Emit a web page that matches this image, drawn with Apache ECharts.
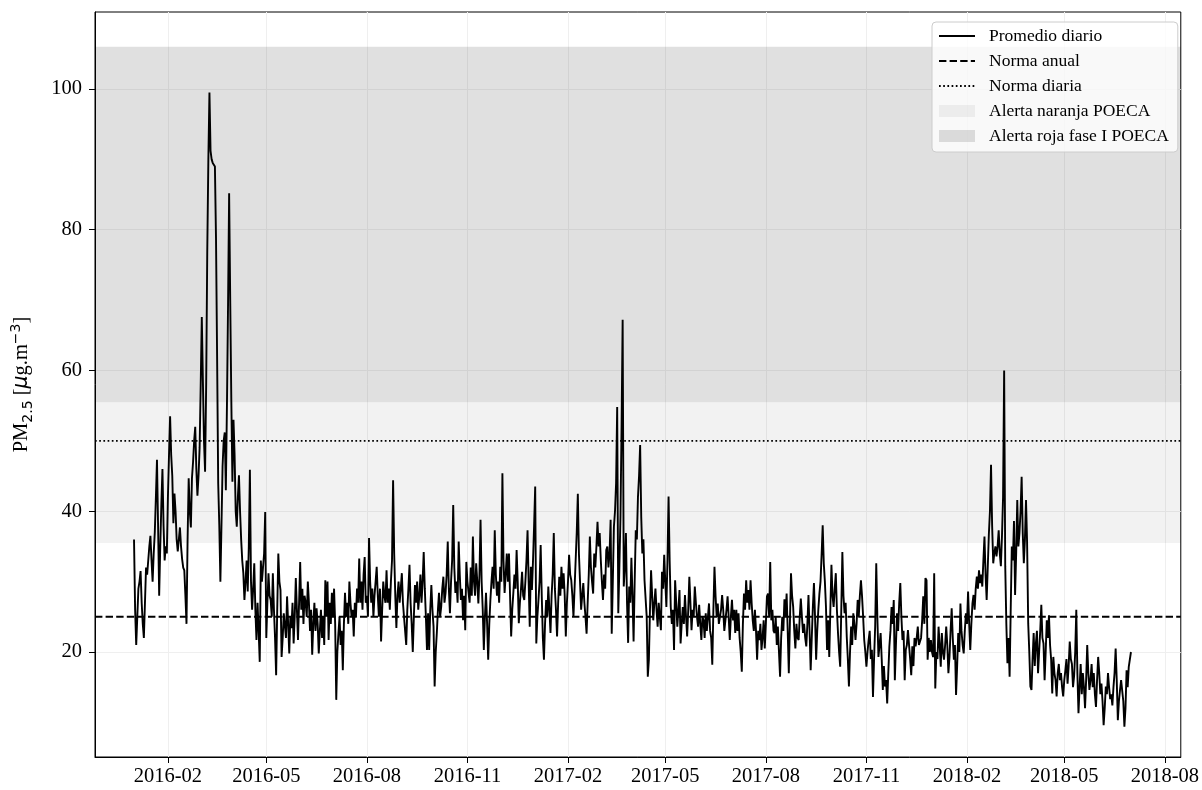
<!DOCTYPE html>
<html><head><meta charset="utf-8">
<script src="https://cdn.jsdelivr.net/npm/echarts@6/dist/echarts.min.js"></script>
<style>html,body{margin:0;padding:0;background:#fff}#c{width:1202px;height:790px}</style>
</head><body><div id="c"></div>
<script>
// ---------- DATA ----------
const startDate = '2016-01-01';
const pm2016 = [
/*Jan*/36,26,21,25,29,30,31.5,27,24,22,27,32,31,33,35,36.5,33,30,34,37,42,47.3,38,28,35,41,46,38,33,35,34,
/*Feb*/42,48,53.5,48,45,38.3,42.5,40,36,34.3,36,37.7,35,33.2,32,31.6,28,24,36,44.7,40,37.7,44.7,47,50,52,46,42.2,45,
/*Mar*/49,58,67.6,58.5,50,45.6,58,77,90,99.5,91.2,90,89.5,89.5,89,78.8,62,44,38,30,38,46.4,50,51.2,43,55,69.2,85.2,70,55.8,44.2,
/*Apr*/53,48,40,37.8,42,45.1,40,36,33,31.2,27.4,30,33,28.6,35,45.9,30,26,29,32.6,26,21.7,27,23,18.6,33,30,32,34,39.9,
/*May*/22,27,31.2,28,27.4,25,31.2,26,22,16.7,26,34,30,28.8,19.3,22,25.5,25.3,22,27.9,24,19.8,25,23.4,27,21.2,25,30.5,26,21.7,27,
/*Jun*/32.8,26,29,24,28,27,25,30,27,23,26,19.6,24,27,23,26.2,24,19.8,23,26,22,25,21,30.2,25,30,21.7,27,24,28.4,
/*Jul*/25,29,24,13.2,20,22.7,25,21,23,17.4,24,28.4,25,27,24,30,27,25,26,22.2,27,25,29,27,33.3,27,30,26,31,33.5,27,
/*Aug*/28,25,36.2,30,27,29,25,28,30,32.1,28,25,29,21.5,26,30,28,27,31.6,27,29,26,30,33,44.4,34,28,23.4,28,30,27,
/*Sep*/29,31.2,27,25,23,21,26,29,32.4,27,24,20,25,29.5,27,30,26,28,31,27,30,34.2,29,25,20.3,25.5,20.3,26,29.5,26,
/*Oct*/23.6,15.1,20,22.7,26,28.4,25,26.4,29,30.7,27,28.4,31,35.7,29,25.5,30,33,40.9,32,28.4,30,27,35.7,31,27.4,29,24.5,28,23.1,32.8,
/*Nov*/30,29.8,27,32,28,36.4,30,28,32.6,30,26.9,31,38.8,30,26,20.3,25,28.4,24,18.9,24,27.4,30,32.1,29,37.3,31,28,30,27,
/*Dec*/32.1,30,45.4,33,28.4,31,34,30,34,28,22.2,26,28.4,31,29,34.5,30,24.1,27,29,31.4,28,27.4,30,33,37.3,30,23.6,32.1,28.8,33
];
const pm2017 = [
/*Jan*/38,43.5,21.2,25,27.4,30,35.2,28,22,18.9,24,27.4,25,29.3,26,22.7,28,31,36.9,29,26,22.2,27,30.7,28,32.1,29,31.2,28,22.2,27,
/*Feb*/30,33.8,31,30.2,28,25,29,33,37,42.5,34,30,26,28,29.8,27,25,22.6,27,31,36.4,32,30,28.3,34,32,35,38.5,
/*Mar*/35,36.9,33.1,30,27.4,31,29,34.5,35,32,34,38.8,22.6,30,37.8,40,44,54.8,25.5,32,39.2,52,67.2,29.3,32,36.9,27,21.3,29.3,27,33.4,
/*Apr*/28,21.5,30,37.3,36,42,45,49.4,39.2,34,36,30.2,30.2,25,16.5,18.9,26,31.6,28,24.5,27,29,26,23.6,27,25,23.1,31.4,29,33.8,
/*May*/30,26.4,33,42.1,33,26.4,24,26,20.3,30.2,27,23.6,26,28.8,21.2,24,26.4,24,28.1,25,22.2,26,30.7,27,23.1,26,25,29.3,27,25,23.6,
/*Jun*/26.7,24,21.7,25,24.5,22,25.5,23,25,26.9,23,22,18.2,26,32.1,28,25,26.9,24,24.1,26,28.1,26,23,24.5,26,27.9,25,21.7,25,
/*Jul*/27.4,24.5,26,22.7,26,23,25.5,22,20,17.2,24,28.3,26,30.2,27,28.8,26,30.2,27,24.5,23,26,23,18.9,23,21.7,24,20.3,22,24.5,20.5,
/*Aug*/24,27.9,28.3,25,32.8,24.5,26,23,22.7,25,21,23.6,20,16.5,22,25,23,27.5,25,28.3,23,17,24,31.2,28,26.4,23,20.5,24,22,21.7,
/*Sep*/25,27.6,25,22.7,24,22,20.8,24,28.1,23,17.4,22,26.4,29.8,25,18.9,23,26,28.3,30,33.8,38,32.6,30,26.4,20.3,24.5,19.3,26,32.4,
/*Oct*/28,26.4,29,31.2,26,22.7,20,17.9,26,34.2,28,25.5,27,22.2,19,15.1,20,23.6,21,25.5,24,21.7,24,27.4,25,28,30.2,27.9,25,21.7,20,
/*Nov*/17.9,20,21.7,23,19,20.3,13.6,19,23.6,32.6,25,19.3,21,22.7,19,14.6,18,15.1,16,12.7,17,20.8,23,26.4,24,27.4,16,21,25.5,23,
/*Dec*/27,29.8,25,21.7,23,16,20.3,21,23.1,21,19,16.7,20.8,18,22,20.8,22,23.6,21,20.8,22,24.5,27.9,24,30.5,30.2,18.9,22,20,21.7,20
];
const pm2018 = [
/*Jan*/19.3,31.2,14.8,20,19,23.6,21,17.9,22.7,20,18.9,21,23.6,21,17,19.3,23,26.2,22,18.9,21,13.9,18,22.7,20,26.9,23,21,19.8,23,25.5,
/*Feb*/24,28.6,24,20.3,24,26.9,28.1,26,29,30.7,29,31.6,29.8,31,29.3,33,36.4,31,27.4,32,36.7,40,46.6,38,32.6,34,35,33.6,
/*Mar*/35,37.3,34,32.2,36.4,42,60,32.2,24,18.4,22,16.5,26,35,33,38.6,28.1,34,41.6,35,36.9,40,44.9,37,32.6,36,41.6,35.5,24.1,20,15.1,
/*Apr*/14.6,19,22.7,18,21.2,23,17,20,23,26.7,22,21.2,16,20,24.5,22,25.2,21,18.9,14.1,19.3,17,16,13.7,17,18.3,16,17,15,13.7,
/*May*/16,17.4,19,15.5,18,21.5,19,18.3,15,16.6,20,26,17,11.3,15,18.3,14,17,15,12,16,21,17,14.6,16,18.3,15,17,14,12.2,16,
/*Jun*/19.3,17,14,15.5,13,9.6,12,15.1,14,17,15,13.3,14,12.4,15,17,20.5,16,10.3,13,14.6,16,15.8,13,9.4,12,17.4,15,17.9,18,
/*Jul*/20
];
const normaAnual = 25;
const normaDiaria = 50;
const alertaNaranja = [35.5, 55.5];
const alertaRoja = [55.5, 106];
const xTickLabels = ['2016-02','2016-05','2016-08','2016-11','2017-02','2017-05','2017-08','2017-11','2018-02','2018-05','2018-08'];
const yTickValues = [20, 40, 60, 80, 100];
const seriesNames = ['Promedio diario','Norma anual','Norma diaria','Alerta naranja POECA','Alerta roja fase I POECA'];

// ---------- BUILD ----------
const DAY = 86400000;
const [sy, sm, sd] = startDate.split('-').map(Number);
const values = pm2016.concat(pm2017, pm2018);
const lineData = values.map((v, i) => [Date.UTC(sy, sm - 1, sd + i), v]);
const xTicks = xTickLabels.map(s => { const [y, m] = s.split('-').map(Number); return Date.UTC(y, m - 1, 1); });
const ref = Date.UTC(2016, 1, 1);
const xMin = ref - 66.7 * DAY;
const xMax = ref + 926.6 * DAY;
const fmtMonth = v => { const d = new Date(v); return d.getUTCFullYear() + '-' + String(d.getUTCMonth() + 1).padStart(2, '0'); };

const FONT = 'Liberation Serif';
const MATH = 'DejaVu Sans';
const TICK_FS = 20.5;
const LEG_FS = 17.5;
const hideSym = {color: 'rgba(0,0,0,0)', borderWidth: 0, opacity: 0};
const chart = echarts.init(document.getElementById('c'), null, {renderer: 'canvas'});
chart.setOption({
  animation: false,
  backgroundColor: '#ffffff',
  grid: {left: 95, right: 20, top: 12, bottom: 33, show: true, borderColor: '#000', borderWidth: 1, backgroundColor: 'transparent'},
  xAxis: {
    type: 'value', min: xMin, max: xMax, scale: true,
    axisLine: {show: true, onZero: false, lineStyle: {color: '#000', width: 1}},
    axisTick: {show: true, customValues: xTicks, length: 6, lineStyle: {color: '#000'}},
    axisLabel: {customValues: xTicks, margin: 9, color: '#000', fontFamily: FONT, fontSize: TICK_FS, formatter: fmtMonth},
    splitLine: {show: true, lineStyle: {color: '#efefef', width: 1}}
  },
  yAxis: {
    type: 'value', min: 5.08, max: 110.94,
    name: '{n|PM}{s|2.5}{n| [}{i|μ}{n|g.m}{p|−3}{n|]}',
    nameLocation: 'middle', nameGap: 60,
    nameTextStyle: {color: '#000', fontFamily: FONT, fontSize: TICK_FS,
      rich: {
        n: {fontFamily: FONT, fontSize: TICK_FS, color: '#000', lineHeight: 26, verticalAlign: 'middle'},
        i: {fontFamily: MATH, fontSize: TICK_FS, color: '#000', fontStyle: 'italic', lineHeight: 26, verticalAlign: 'middle'},
        s: {fontFamily: MATH, fontSize: 14, color: '#000', lineHeight: 14, verticalAlign: 'bottom'},
        p: {fontFamily: MATH, fontSize: 14, color: '#000', lineHeight: 14, verticalAlign: 'top'}
      }},
    axisLine: {show: true, onZero: false, lineStyle: {color: '#000', width: 1}},
    axisTick: {show: true, customValues: yTickValues, length: 6, lineStyle: {color: '#000'}},
    axisLabel: {customValues: yTickValues, margin: 13, color: '#000', fontFamily: FONT, fontSize: TICK_FS},
    splitLine: {show: true, lineStyle: {color: '#efefef', width: 1}}
  },
  legend: {
    orient: 'vertical', left: 932, top: 22,
    itemWidth: 36, itemHeight: 12, itemGap: 7,
    padding: [5, 9, 7, 6],
    backgroundColor: 'rgba(255,255,255,0.8)', borderColor: '#cccccc', borderWidth: 1, borderRadius: 4,
    selectedMode: false,
    textStyle: {color: '#000', fontFamily: FONT, fontSize: LEG_FS, padding: [0, 0, 0, 9]},
    data: [
      {name: seriesNames[0], itemStyle: hideSym},
      {name: seriesNames[1], itemStyle: hideSym},
      {name: seriesNames[2], itemStyle: hideSym},
      {name: seriesNames[3], icon: 'rect'},
      {name: seriesNames[4], icon: 'rect'}
    ]
  },
  series: [
    {name: seriesNames[3], type: 'line', data: [], z: 1, color: 'rgba(0,0,0,0.05)',
      itemStyle: {color: 'rgba(0,0,0,0.05)'},
      markArea: {silent: true, itemStyle: {color: 'rgba(0,0,0,0.05)'},
        data: [[{yAxis: alertaNaranja[0]}, {yAxis: alertaNaranja[1]}]]}},
    {name: seriesNames[4], type: 'line', data: [], z: 1, color: 'rgba(0,0,0,0.12)',
      itemStyle: {color: 'rgba(0,0,0,0.12)'},
      markArea: {silent: true, itemStyle: {color: 'rgba(0,0,0,0.12)'},
        data: [[{yAxis: alertaRoja[0]}, {yAxis: alertaRoja[1]}]]}},
    {name: seriesNames[1], type: 'line', showSymbol: false, symbol: 'none', z: 3, color: '#000',
      data: [[xMin, normaAnual], [xMax, normaAnual]],
      lineStyle: {color: '#000', width: 2, type: [7.4, 3.2]}},
    {name: seriesNames[2], type: 'line', showSymbol: false, symbol: 'none', z: 3, color: '#000',
      data: [[xMin, normaDiaria], [xMax, normaDiaria]],
      lineStyle: {color: '#000', width: 1.7, type: [1.7, 2.5]}},
    {name: seriesNames[0], type: 'line', showSymbol: false, symbol: 'none', z: 4, color: '#000',
      data: lineData, lineStyle: {color: '#000', width: 1.9}}
  ]
});
</script></body></html>
